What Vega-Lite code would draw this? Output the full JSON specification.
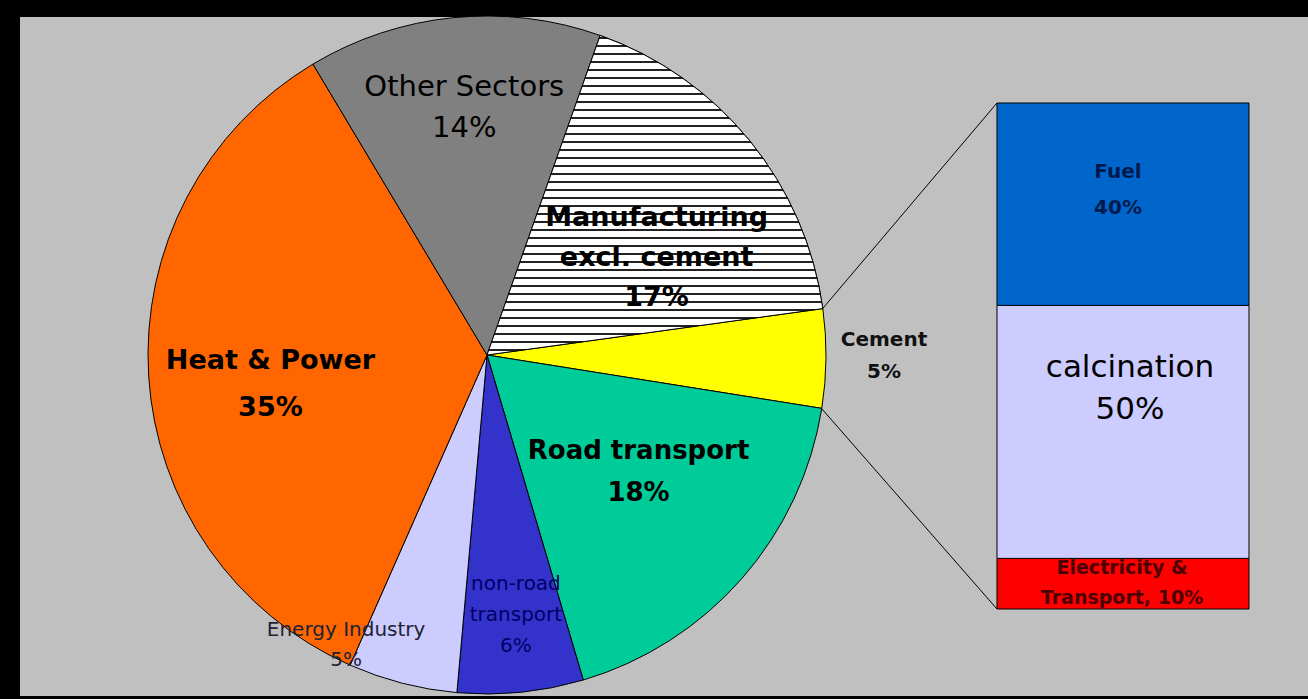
{
  "$schema": "https://vega.github.io/schema/vega-lite/v6.json",
  "width": 1288,
  "height": 679,
  "autosize": {"type": "none"},
  "padding": {"left": 20, "top": 17, "right": 0, "bottom": 3},
  "background": "#000000",
  "config": {"view": {"stroke": null, "fill": "#C0C0C0"}},
  "datasets": {
    "pie": [
      {"name": "Manufacturing", "pct": 17.4, "idx": 1, "label": "Manufacturing\nexcl. cement\n17%"},
      {"name": "Cement", "pct": 4.7, "idx": 2, "label": "Cement\n5%"},
      {"name": "Road transport", "pct": 17.9, "idx": 3, "label": "Road transport\n18%"},
      {"name": "non-road transport", "pct": 6.0, "idx": 4, "label": "non-road\ntransport\n6%"},
      {"name": "Energy Industry", "pct": 5.2, "idx": 5, "label": "Energy Industry\n5%"},
      {"name": "Heat & Power", "pct": 34.8, "idx": 6, "label": "Heat & Power\n35%"},
      {"name": "Other Sectors", "pct": 14.0, "idx": 7, "label": "Other Sectors\n14%"}
    ],
    "bar": [
      {"name": "Electricity & Transport", "pct": 10, "idx": 1, "label": "Electricity &\nTransport, 10%"},
      {"name": "calcination", "pct": 50, "idx": 2, "label": "calcination\n50%"},
      {"name": "Fuel", "pct": 40, "idx": 3, "label": "Fuel\n40%"}
    ]
  },
  "layer": [
    {
      "data": {"name": "pie"},
      "mark": {"type": "arc", "outerRadius": 339, "stroke": "#000000", "strokeWidth": 1},
      "encoding": {
        "theta": {"field": "pct", "type": "quantitative", "stack": true, "scale": {"range": [0.3403, 6.6235]}},
        "order": {"field": "idx", "type": "quantitative"},
        "x": {"datum": 36.258, "type": "quantitative", "scale": {"domain": [0, 100], "nice": false, "zero": false}, "axis": null},
        "y": {"datum": 50.2, "type": "quantitative", "scale": {"domain": [0, 100], "range": [592, 86], "nice": false, "zero": false}, "axis": null},
        "color": {"field": "name", "type": "nominal", "legend": null,
          "scale": {"domain": ["Manufacturing", "Cement", "Road transport", "non-road transport", "Energy Industry", "Heat & Power", "Other Sectors", "Electricity & Transport", "calcination", "Fuel"],
                    "range": ["#FFFFFF", "#FFFF00", "#00CC99", "#3333CC", "#CCCCFF", "#FF6600", "#808080", "#FF0000", "#CCCCFF", "#0066CC"]}}
      }
    },
    {
      "data": {"name": "pie"},
      "mark": {"type": "arc", "outerRadius": 339, "stroke": "#000000", "strokeWidth": 1,
        "fill": {"gradient": "linear", "x1": 0, "y1": 0, "x2": 0, "y2": 1, "stops": [
          {"offset": 0, "color": "#ffffff"},
          {"offset": 0.005, "color": "#ffffff"}, {"offset": 0.005, "color": "#222222"}, {"offset": 0.0125, "color": "#222222"}, {"offset": 0.0125, "color": "#ffffff"},
          {"offset": 0.030, "color": "#ffffff"}, {"offset": 0.030, "color": "#222222"}, {"offset": 0.0375, "color": "#222222"}, {"offset": 0.0375, "color": "#ffffff"},
          {"offset": 0.055, "color": "#ffffff"}, {"offset": 0.055, "color": "#222222"}, {"offset": 0.0625, "color": "#222222"}, {"offset": 0.0625, "color": "#ffffff"},
          {"offset": 0.080, "color": "#ffffff"}, {"offset": 0.080, "color": "#222222"}, {"offset": 0.0875, "color": "#222222"}, {"offset": 0.0875, "color": "#ffffff"},
          {"offset": 0.105, "color": "#ffffff"}, {"offset": 0.105, "color": "#222222"}, {"offset": 0.1125, "color": "#222222"}, {"offset": 0.1125, "color": "#ffffff"},
          {"offset": 0.130, "color": "#ffffff"}, {"offset": 0.130, "color": "#222222"}, {"offset": 0.1375, "color": "#222222"}, {"offset": 0.1375, "color": "#ffffff"},
          {"offset": 0.155, "color": "#ffffff"}, {"offset": 0.155, "color": "#222222"}, {"offset": 0.1625, "color": "#222222"}, {"offset": 0.1625, "color": "#ffffff"},
          {"offset": 0.180, "color": "#ffffff"}, {"offset": 0.180, "color": "#222222"}, {"offset": 0.1875, "color": "#222222"}, {"offset": 0.1875, "color": "#ffffff"},
          {"offset": 0.205, "color": "#ffffff"}, {"offset": 0.205, "color": "#222222"}, {"offset": 0.2125, "color": "#222222"}, {"offset": 0.2125, "color": "#ffffff"},
          {"offset": 0.230, "color": "#ffffff"}, {"offset": 0.230, "color": "#222222"}, {"offset": 0.2375, "color": "#222222"}, {"offset": 0.2375, "color": "#ffffff"},
          {"offset": 0.255, "color": "#ffffff"}, {"offset": 0.255, "color": "#222222"}, {"offset": 0.2625, "color": "#222222"}, {"offset": 0.2625, "color": "#ffffff"},
          {"offset": 0.280, "color": "#ffffff"}, {"offset": 0.280, "color": "#222222"}, {"offset": 0.2875, "color": "#222222"}, {"offset": 0.2875, "color": "#ffffff"},
          {"offset": 0.305, "color": "#ffffff"}, {"offset": 0.305, "color": "#222222"}, {"offset": 0.3125, "color": "#222222"}, {"offset": 0.3125, "color": "#ffffff"},
          {"offset": 0.330, "color": "#ffffff"}, {"offset": 0.330, "color": "#222222"}, {"offset": 0.3375, "color": "#222222"}, {"offset": 0.3375, "color": "#ffffff"},
          {"offset": 0.355, "color": "#ffffff"}, {"offset": 0.355, "color": "#222222"}, {"offset": 0.3625, "color": "#222222"}, {"offset": 0.3625, "color": "#ffffff"},
          {"offset": 0.380, "color": "#ffffff"}, {"offset": 0.380, "color": "#222222"}, {"offset": 0.3875, "color": "#222222"}, {"offset": 0.3875, "color": "#ffffff"},
          {"offset": 0.405, "color": "#ffffff"}, {"offset": 0.405, "color": "#222222"}, {"offset": 0.4125, "color": "#222222"}, {"offset": 0.4125, "color": "#ffffff"},
          {"offset": 0.430, "color": "#ffffff"}, {"offset": 0.430, "color": "#222222"}, {"offset": 0.4375, "color": "#222222"}, {"offset": 0.4375, "color": "#ffffff"},
          {"offset": 0.455, "color": "#ffffff"}, {"offset": 0.455, "color": "#222222"}, {"offset": 0.4625, "color": "#222222"}, {"offset": 0.4625, "color": "#ffffff"},
          {"offset": 0.480, "color": "#ffffff"}, {"offset": 0.480, "color": "#222222"}, {"offset": 0.4875, "color": "#222222"}, {"offset": 0.4875, "color": "#ffffff"},
          {"offset": 0.505, "color": "#ffffff"}, {"offset": 0.505, "color": "#222222"}, {"offset": 0.5125, "color": "#222222"}, {"offset": 0.5125, "color": "#ffffff"},
          {"offset": 0.530, "color": "#ffffff"}, {"offset": 0.530, "color": "#222222"}, {"offset": 0.5375, "color": "#222222"}, {"offset": 0.5375, "color": "#ffffff"},
          {"offset": 0.555, "color": "#ffffff"}, {"offset": 0.555, "color": "#222222"}, {"offset": 0.5625, "color": "#222222"}, {"offset": 0.5625, "color": "#ffffff"},
          {"offset": 0.580, "color": "#ffffff"}, {"offset": 0.580, "color": "#222222"}, {"offset": 0.5875, "color": "#222222"}, {"offset": 0.5875, "color": "#ffffff"},
          {"offset": 0.605, "color": "#ffffff"}, {"offset": 0.605, "color": "#222222"}, {"offset": 0.6125, "color": "#222222"}, {"offset": 0.6125, "color": "#ffffff"},
          {"offset": 0.630, "color": "#ffffff"}, {"offset": 0.630, "color": "#222222"}, {"offset": 0.6375, "color": "#222222"}, {"offset": 0.6375, "color": "#ffffff"},
          {"offset": 0.655, "color": "#ffffff"}, {"offset": 0.655, "color": "#222222"}, {"offset": 0.6625, "color": "#222222"}, {"offset": 0.6625, "color": "#ffffff"},
          {"offset": 0.680, "color": "#ffffff"}, {"offset": 0.680, "color": "#222222"}, {"offset": 0.6875, "color": "#222222"}, {"offset": 0.6875, "color": "#ffffff"},
          {"offset": 0.705, "color": "#ffffff"}, {"offset": 0.705, "color": "#222222"}, {"offset": 0.7125, "color": "#222222"}, {"offset": 0.7125, "color": "#ffffff"},
          {"offset": 0.730, "color": "#ffffff"}, {"offset": 0.730, "color": "#222222"}, {"offset": 0.7375, "color": "#222222"}, {"offset": 0.7375, "color": "#ffffff"},
          {"offset": 0.755, "color": "#ffffff"}, {"offset": 0.755, "color": "#222222"}, {"offset": 0.7625, "color": "#222222"}, {"offset": 0.7625, "color": "#ffffff"},
          {"offset": 0.780, "color": "#ffffff"}, {"offset": 0.780, "color": "#222222"}, {"offset": 0.7875, "color": "#222222"}, {"offset": 0.7875, "color": "#ffffff"},
          {"offset": 0.805, "color": "#ffffff"}, {"offset": 0.805, "color": "#222222"}, {"offset": 0.8125, "color": "#222222"}, {"offset": 0.8125, "color": "#ffffff"},
          {"offset": 0.830, "color": "#ffffff"}, {"offset": 0.830, "color": "#222222"}, {"offset": 0.8375, "color": "#222222"}, {"offset": 0.8375, "color": "#ffffff"},
          {"offset": 0.855, "color": "#ffffff"}, {"offset": 0.855, "color": "#222222"}, {"offset": 0.8625, "color": "#222222"}, {"offset": 0.8625, "color": "#ffffff"},
          {"offset": 0.880, "color": "#ffffff"}, {"offset": 0.880, "color": "#222222"}, {"offset": 0.8875, "color": "#222222"}, {"offset": 0.8875, "color": "#ffffff"},
          {"offset": 0.905, "color": "#ffffff"}, {"offset": 0.905, "color": "#222222"}, {"offset": 0.9125, "color": "#222222"}, {"offset": 0.9125, "color": "#ffffff"},
          {"offset": 0.930, "color": "#ffffff"}, {"offset": 0.930, "color": "#222222"}, {"offset": 0.9375, "color": "#222222"}, {"offset": 0.9375, "color": "#ffffff"},
          {"offset": 0.955, "color": "#ffffff"}, {"offset": 0.955, "color": "#222222"}, {"offset": 0.9625, "color": "#222222"}, {"offset": 0.9625, "color": "#ffffff"},
          {"offset": 0.980, "color": "#ffffff"}, {"offset": 0.980, "color": "#222222"}, {"offset": 0.9875, "color": "#222222"}, {"offset": 0.9875, "color": "#ffffff"},
          {"offset": 1, "color": "#ffffff"}
        ]}},
      "encoding": {
        "theta": {"field": "pct", "type": "quantitative", "stack": true, "scale": {"range": [0.3403, 6.6235]}},
        "order": {"field": "idx", "type": "quantitative"},
        "x": {"datum": 36.258, "type": "quantitative", "scale": {"domain": [0, 100], "nice": false, "zero": false}, "axis": null},
        "y": {"datum": 50.2, "type": "quantitative", "scale": {"domain": [0, 100], "range": [592, 86], "nice": false, "zero": false}, "axis": null},
        "opacity": {"condition": {"test": "datum.name === 'Manufacturing'", "value": 1}, "value": 0}
      }
    },
    {
      "data": {"name": "bar"},
      "transform": [
        {"stack": "pct", "groupby": [], "sort": [{"field": "idx", "order": "ascending"}], "as": ["y0", "y1"]}
      ],
      "mark": {"type": "rect", "stroke": "#000000", "strokeWidth": 1},
      "encoding": {
        "x": {"datum": 75.854, "type": "quantitative", "scale": {"domain": [0, 100], "nice": false, "zero": false}, "axis": null},
        "x2": {"datum": 95.419},
        "y": {"field": "y0", "type": "quantitative", "scale": {"domain": [0, 100], "range": [592, 86], "nice": false, "zero": false}, "axis": null},
        "y2": {"field": "y1"},
        "color": {"field": "name", "type": "nominal", "legend": null,
          "scale": {"domain": ["Manufacturing", "Cement", "Road transport", "non-road transport", "Energy Industry", "Heat & Power", "Other Sectors", "Electricity & Transport", "calcination", "Fuel"],
                    "range": ["#FFFFFF", "#FFFF00", "#00CC99", "#3333CC", "#CCCCFF", "#FF6600", "#808080", "#FF0000", "#CCCCFF", "#0066CC"]}}
      }
    },
    {
      "data": {"values": [{}]},
      "mark": {"type": "rule", "color": "#000000", "strokeWidth": 1},
      "encoding": {
        "x": {"datum": 62.33, "type": "quantitative"},
        "y": {"datum": 59.41, "type": "quantitative"},
        "x2": {"datum": 75.854},
        "y2": {"datum": 100}
      }
    },
    {
      "data": {"values": [{}]},
      "mark": {"type": "rule", "color": "#000000", "strokeWidth": 1},
      "encoding": {
        "x": {"datum": 62.24, "type": "quantitative"},
        "y": {"datum": 39.6, "type": "quantitative"},
        "x2": {"datum": 75.854},
        "y2": {"datum": 0}
      }
    },
    {
      "data": {"name": "pie"},
      "mark": {"type": "text", "radius": 249, "dx": 2, "dy": -20.5, "font": "DejaVu Sans", "fontSize": 29, "lineHeight": 41, "lineBreak": "\n", "color": "#000000"},
      "encoding": {
        "theta": {"field": "pct", "type": "quantitative", "stack": true},
        "order": {"field": "idx", "type": "quantitative"},
        "x": {"datum": 36.258, "type": "quantitative"},
        "y": {"datum": 50.2, "type": "quantitative"},
        "text": {"condition": {"test": "datum.name === 'Other Sectors'", "field": "label", "type": "nominal"}, "value": ""}
      }
    },
    {
      "data": {"name": "pie"},
      "mark": {"type": "text", "radius": 193, "dx": 20, "dy": -15, "font": "DejaVu Sans", "fontSize": 27, "fontWeight": "bold", "lineHeight": 40, "lineBreak": "\n", "color": "#000000"},
      "encoding": {
        "theta": {"field": "pct", "type": "quantitative", "stack": true},
        "order": {"field": "idx", "type": "quantitative"},
        "x": {"datum": 36.258, "type": "quantitative"},
        "y": {"datum": 50.2, "type": "quantitative"},
        "text": {"condition": {"test": "datum.name === 'Manufacturing'", "field": "label", "type": "nominal"}, "value": ""}
      }
    },
    {
      "data": {"name": "pie"},
      "mark": {"type": "text", "radius": 397, "dx": 0, "dy": -19, "font": "DejaVu Sans", "fontSize": 20, "fontWeight": "bold", "lineHeight": 32, "lineBreak": "\n", "color": "#111111"},
      "encoding": {
        "theta": {"field": "pct", "type": "quantitative", "stack": true},
        "order": {"field": "idx", "type": "quantitative"},
        "x": {"datum": 36.258, "type": "quantitative"},
        "y": {"datum": 50.2, "type": "quantitative"},
        "text": {"condition": {"test": "datum.name === 'Cement'", "field": "label", "type": "nominal"}, "value": ""}
      }
    },
    {
      "data": {"name": "pie"},
      "mark": {"type": "text", "radius": 191, "dx": 8, "dy": -30, "font": "DejaVu Sans", "fontSize": 26, "fontWeight": "bold", "lineHeight": 42, "lineBreak": "\n", "color": "#000000"},
      "encoding": {
        "theta": {"field": "pct", "type": "quantitative", "stack": true},
        "order": {"field": "idx", "type": "quantitative"},
        "x": {"datum": 36.258, "type": "quantitative"},
        "y": {"datum": 50.2, "type": "quantitative"},
        "text": {"condition": {"test": "datum.name === 'Road transport'", "field": "label", "type": "nominal"}, "value": ""}
      }
    },
    {
      "data": {"name": "pie"},
      "mark": {"type": "text", "radius": 261, "dx": 3, "dy": -31, "font": "DejaVu Sans", "fontSize": 20, "lineHeight": 31, "lineBreak": "\n", "color": "#000066"},
      "encoding": {
        "theta": {"field": "pct", "type": "quantitative", "stack": true},
        "order": {"field": "idx", "type": "quantitative"},
        "x": {"datum": 36.258, "type": "quantitative"},
        "y": {"datum": 50.2, "type": "quantitative"},
        "text": {"condition": {"test": "datum.name === 'non-road transport'", "field": "label", "type": "nominal"}, "value": ""}
      }
    },
    {
      "data": {"name": "pie"},
      "mark": {"type": "text", "radius": 316, "dx": -62, "dy": -31, "font": "DejaVu Sans", "fontSize": 20, "lineHeight": 30, "lineBreak": "\n", "color": "#222233"},
      "encoding": {
        "theta": {"field": "pct", "type": "quantitative", "stack": true},
        "order": {"field": "idx", "type": "quantitative"},
        "x": {"datum": 36.258, "type": "quantitative"},
        "y": {"datum": 50.2, "type": "quantitative"},
        "text": {"condition": {"test": "datum.name === 'Energy Industry'", "field": "label", "type": "nominal"}, "value": ""}
      }
    },
    {
      "data": {"name": "pie"},
      "mark": {"type": "text", "radius": 218, "dx": 1, "dy": -7.5, "font": "DejaVu Sans", "fontSize": 27, "fontWeight": "bold", "lineHeight": 47, "lineBreak": "\n", "color": "#000000"},
      "encoding": {
        "theta": {"field": "pct", "type": "quantitative", "stack": true},
        "order": {"field": "idx", "type": "quantitative"},
        "x": {"datum": 36.258, "type": "quantitative"},
        "y": {"datum": 50.2, "type": "quantitative"},
        "text": {"condition": {"test": "datum.name === 'Heat & Power'", "field": "label", "type": "nominal"}, "value": ""}
      }
    },
    {
      "data": {"name": "bar"},
      "mark": {"type": "text", "dx": -5, "dy": -32, "font": "DejaVu Sans", "fontSize": 20, "fontWeight": "bold", "lineHeight": 36, "lineBreak": "\n", "color": "#001a4d"},
      "encoding": {
        "x": {"datum": 85.637, "type": "quantitative"},
        "y": {"field": "pct", "type": "quantitative", "stack": "zero", "bandPosition": 0.5},
        "order": {"field": "idx", "type": "quantitative"},
        "text": {"condition": {"test": "datum.name === 'Fuel'", "field": "label", "type": "nominal"}, "value": ""}
      }
    },
    {
      "data": {"name": "bar"},
      "mark": {"type": "text", "dx": 7, "dy": -64, "font": "DejaVu Sans", "fontSize": 31, "lineHeight": 42, "lineBreak": "\n", "color": "#000000"},
      "encoding": {
        "x": {"datum": 85.637, "type": "quantitative"},
        "y": {"field": "pct", "type": "quantitative", "stack": "zero", "bandPosition": 0.5},
        "order": {"field": "idx", "type": "quantitative"},
        "text": {"condition": {"test": "datum.name === 'calcination'", "field": "label", "type": "nominal"}, "value": ""}
      }
    },
    {
      "data": {"name": "bar"},
      "mark": {"type": "text", "dx": -1, "dy": -16, "font": "DejaVu Sans", "fontSize": 19, "fontWeight": "bold", "lineHeight": 30, "lineBreak": "\n", "color": "#4d0000"},
      "encoding": {
        "x": {"datum": 85.637, "type": "quantitative"},
        "y": {"field": "pct", "type": "quantitative", "stack": "zero", "bandPosition": 0.5},
        "order": {"field": "idx", "type": "quantitative"},
        "text": {"condition": {"test": "datum.name === 'Electricity & Transport'", "field": "label", "type": "nominal"}, "value": ""}
      }
    }
  ]
}
